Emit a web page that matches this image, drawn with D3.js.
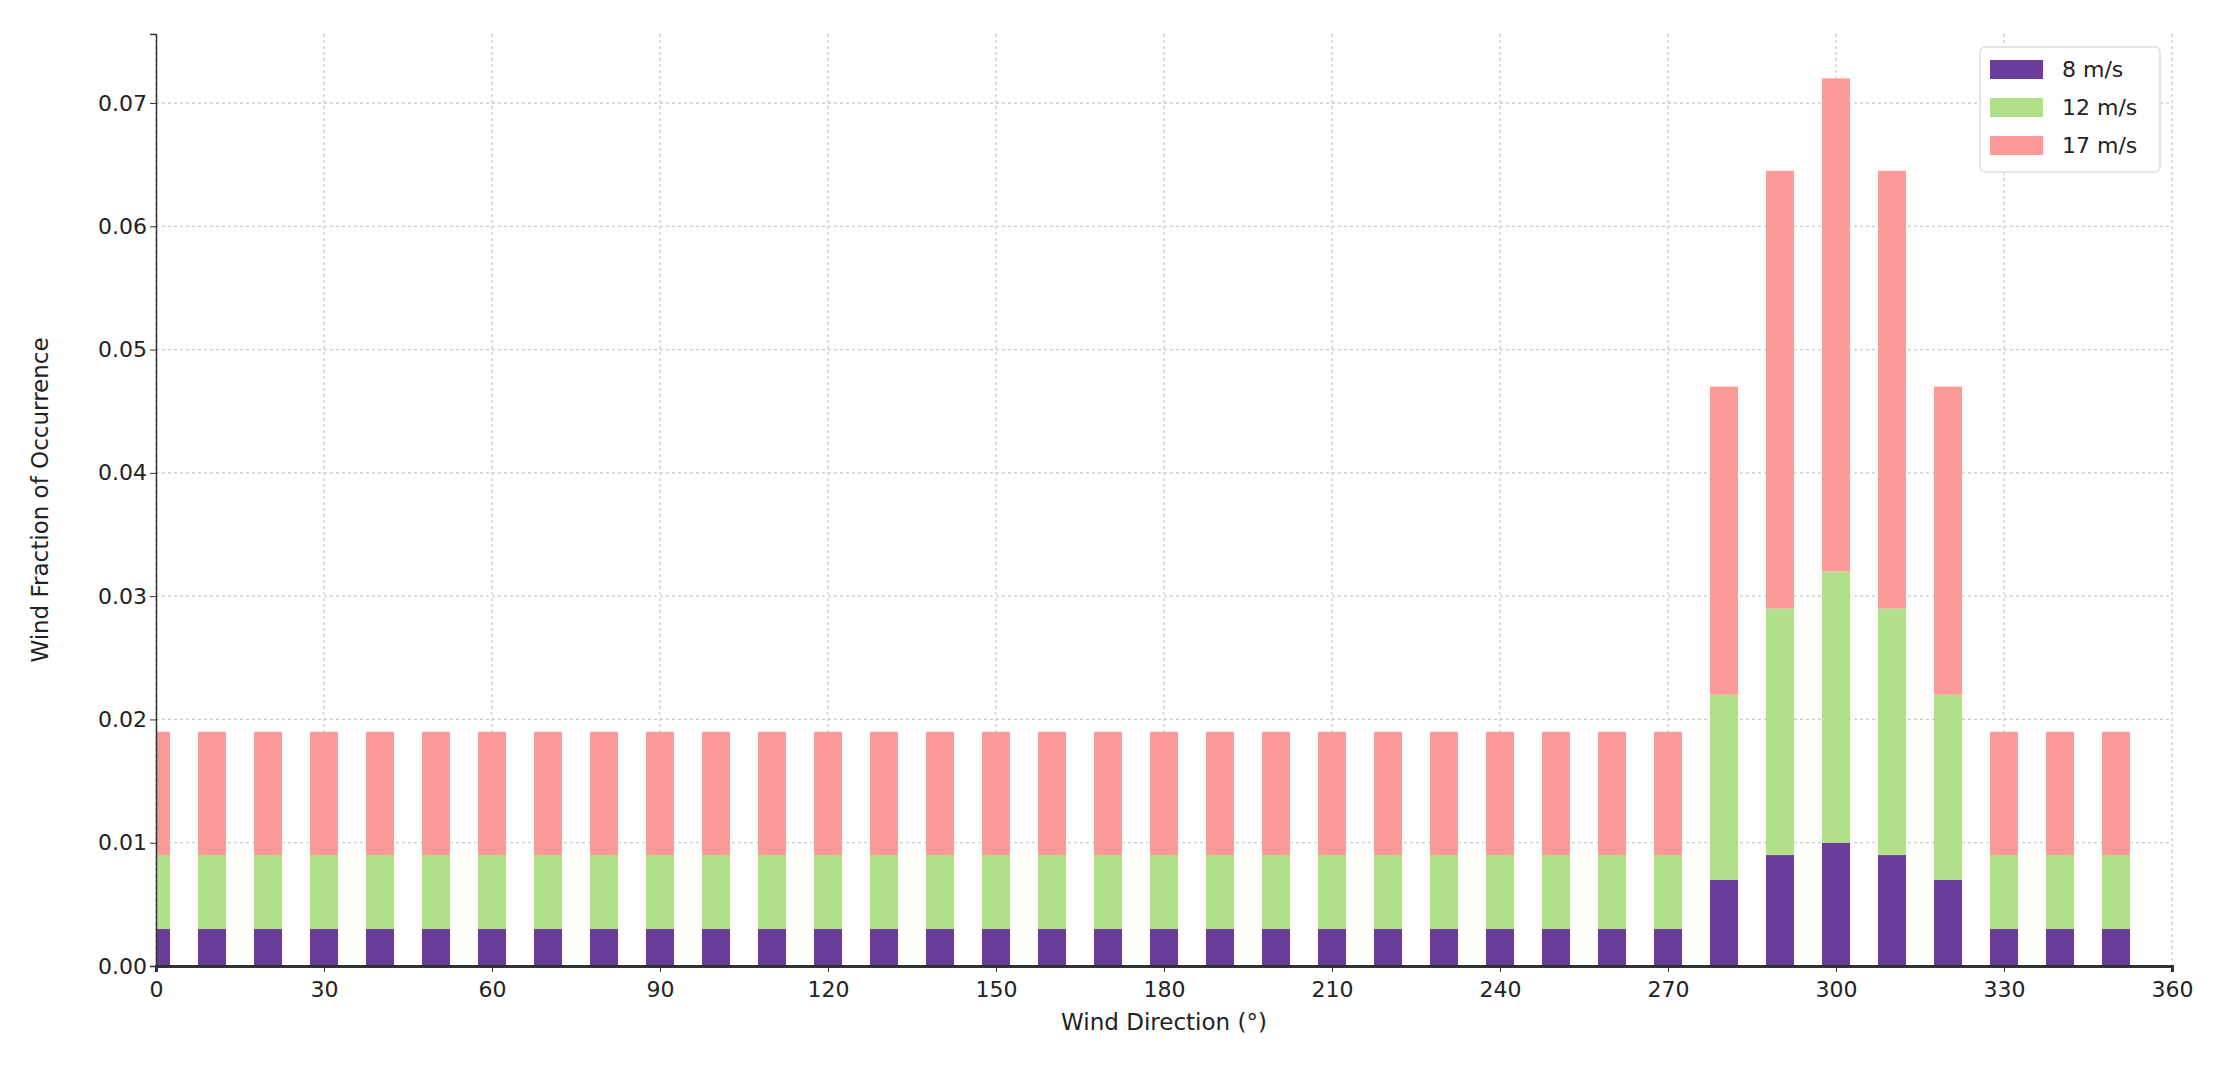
<!DOCTYPE html>
<html>
<head>
<meta charset="utf-8">
<script src="https://cdn.jsdelivr.net/npm/d3@7"></script>
<style>
  body { margin: 0; background: #fff; }
  text { font-family: "DejaVu Sans", sans-serif; }
</style>
</head>
<body>
<svg id="chart" width="2224" height="1067"></svg>
<script>
const directions = d3.range(0, 360, 10);
// per-bin fractions
const speed8 = directions.map((d) => ({280: 0.007, 290: 0.009, 300: 0.010, 310: 0.009, 320: 0.007}[d] ?? 0.003));
const speed12 = directions.map((d) => ({280: 0.015, 290: 0.020, 300: 0.022, 310: 0.020, 320: 0.015}[d] ?? 0.006));
const speed17 = directions.map((d) => ({280: 0.025, 290: 0.0355, 300: 0.040, 310: 0.0355, 320: 0.025}[d] ?? 0.010));
const seriesNames = ["8 m/s", "12 m/s", "17 m/s"];
const seriesColors = ["#6a3d9a", "#b2df8a", "#fb9a99"];
const xTicks = d3.range(0, 361, 30);
const yTicks = d3.range(0, 0.0701, 0.01);

const svg = d3.select("#chart");
const m = { left: 156, right: 2172, top: 34, bottom: 966 };

const x = d3.scaleLinear().domain([0, 360]).range([m.left, m.right]);
const y = d3.scaleLinear().domain([0, 0.0756]).range([m.bottom, m.top]);

svg.append("defs").append("clipPath").attr("id", "plot")
  .append("rect").attr("x", m.left).attr("y", m.top)
  .attr("width", m.right - m.left).attr("height", m.bottom - m.top);

// grid
const grid = svg.append("g").attr("stroke", "#c8c8c8").attr("stroke-dasharray", "3,3").attr("stroke-width", 1.2);
xTicks.forEach((t) => grid.append("line").attr("x1", x(t)).attr("x2", x(t)).attr("y1", m.top).attr("y2", m.bottom));
yTicks.forEach((t) => grid.append("line").attr("x1", m.left).attr("x2", m.right).attr("y1", y(t)).attr("y2", y(t)));

// stacked bars
const rows = directions.map((d, i) => ({ dir: d, s0: speed8[i], s1: speed12[i], s2: speed17[i] }));
const stacked = d3.stack().keys(["s0", "s1", "s2"])(rows);
const barW = x(5) - x(0);
svg.append("g").attr("clip-path", "url(#plot)")
  .selectAll("g").data(stacked).join("g")
  .attr("fill", (s, i) => seriesColors[i])
  .selectAll("rect").data((s) => s).join("rect")
  .attr("x", (d) => x(d.data.dir) - barW / 2)
  .attr("width", barW)
  .attr("y", (d) => y(d[1]))
  .attr("height", (d) => y(d[0]) - y(d[1]));

// axes
const xAxis = svg.append("g").attr("transform", `translate(0,${m.bottom})`)
  .call(d3.axisBottom(x).tickValues(xTicks).tickFormat(d3.format("d")).tickSize(6));
const yAxis = svg.append("g").attr("transform", `translate(${m.left},0)`)
  .call(d3.axisLeft(y).tickValues(yTicks).tickFormat(d3.format(".2f")).tickSize(6));
[xAxis, yAxis].forEach((a) => {
  a.select(".domain").attr("stroke", "#333").attr("stroke-width", 1.5);
  a.selectAll("text").attr("font-size", 22).attr("fill", "#222");
  a.selectAll(".tick line").attr("stroke", "#333");
});
xAxis.select(".domain").attr("stroke-width", 3);
xAxis.selectAll("text").attr("dy", "1.0em");

svg.append("text").attr("x", (m.left + m.right) / 2).attr("y", 1030)
  .attr("text-anchor", "middle").attr("font-size", 23).attr("fill", "#222")
  .text("Wind Direction (°)");
svg.append("text").attr("transform", `translate(48,${(m.top + m.bottom) / 2}) rotate(-90)`)
  .attr("text-anchor", "middle").attr("font-size", 23).attr("fill", "#222")
  .text("Wind Fraction of Occurrence");

// legend
const lg = svg.append("g").attr("transform", "translate(1980,47)");
lg.append("rect").attr("width", 180).attr("height", 125).attr("rx", 5)
  .attr("fill", "#fff").attr("fill-opacity", 0.9).attr("stroke", "#ddd").attr("stroke-width", 1.5);
seriesNames.forEach((n, i) => {
  lg.append("rect").attr("x", 10).attr("y", 13 + i * 38).attr("width", 53).attr("height", 19).attr("fill", seriesColors[i]);
  lg.append("text").attr("x", 82).attr("y", 30 + i * 38).attr("font-size", 22).attr("fill", "#222").text(n);
});
</script>
</body>
</html>
